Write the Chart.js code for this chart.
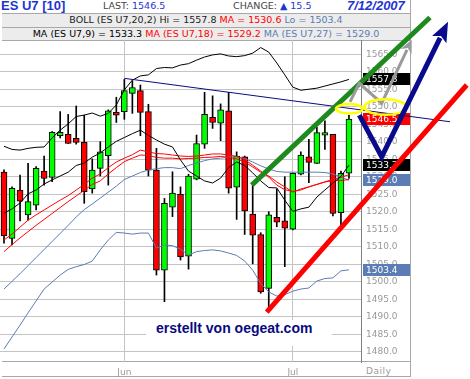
<!DOCTYPE html>
<html>
<head>
<meta charset="utf-8">
<script src="https://cdn.jsdelivr.net/npm/chart.js@4.4.1/dist/chart.umd.min.js"></script>
<style>
  html, body { margin: 0; padding: 0; background: #fff; }
  #wrap { position: relative; width: 470px; height: 379px; overflow: hidden; font-family: "DejaVu Sans", sans-serif; }
  .row { position: absolute; left: 2px; width: 408px; box-sizing: border-box; }
  #row1 { top: 0; height: 14px; background: #fff; border-bottom: 1px solid #a8a8a8; }
  #row2 { top: 14px; height: 14px; background: #ececec; border-bottom: 1px solid #a8a8a8; }
  #row3 { top: 28px; height: 13px; background: #ececec; border-bottom: 1px solid #a8a8a8; }
  .t { position: absolute; white-space: nowrap; line-height: 12px; font-size: 9.5px; }
  .c { left: 0; width: 408px; text-align: center; }
  .blue { color: #1f34d4; }
  .red { color: #ff0000; }
  .steel { color: #5b7cb4; }
  .big { font-family: "Liberation Sans", Arial, sans-serif; font-weight: bold; font-size: 13px; line-height: 14px; }
  #frameR { position: absolute; left: 410px; top: 0; width: 1px; height: 377px; background: #a8a8a8; }
  #frameB { position: absolute; left: 2px; top: 376px; width: 409px; height: 1px; background: #a8a8a8; }
  #axisB { position: absolute; left: 2px; top: 361px; width: 409px; height: 1px; background: #a8a8a8; }
  #daily { position: absolute; left: 366px; top: 366px; font-size: 9px; line-height: 11px; color: #999; letter-spacing: 0.5px; }
  #chart { position: absolute; left: 0; top: 0; }
  #mark { position: absolute; left: 146px; top: 320px; width: 186px; height: 26px; background: #fff;
          font-family: "Liberation Sans", Arial, sans-serif; font-weight: bold; font-size: 14px; line-height: 16px;
          color: #0a0a80; padding-left: 10px; box-sizing: border-box; padding-top: 0px; }
</style>
</head>
<body>
<div id="wrap">
  <div id="row1" class="row">
    <span class="t big blue" style="left:-1px;top:-1px;">ES U7 [10]</span>
    <span class="t" style="left:101px;top:0px;color:#444;">LAST: <span class="blue" id="vLast"></span></span>
    <span class="t" style="left:231px;top:0px;color:#444;">CHANGE: <span class="blue" id="vChg"></span></span>
    <span class="t big blue" style="left:345px;top:-1px;font-style:italic;">7/12/2007</span>
  </div>
  <div id="row2" class="row">
    <span class="t c" style="top:0px;color:#222;">BOLL (ES U7,20,2) Hi = <span id="vHi"></span> <span class="red">MA = <span id="vMid"></span></span> <span class="steel">Lo = <span id="vLo"></span></span></span>
  </div>
  <div id="row3" class="row">
    <span class="t c" style="top:0px;color:#000;">MA (ES U7,9) = <span id="vM9"></span> <span class="red">MA (ES U7,18) = <span id="vM18"></span></span> <span class="steel">MA (ES U7,27) = <span id="vM27"></span></span></span>
  </div>
  <div id="frameR"></div>
  <div id="frameB"></div>
  <div id="axisB"></div>
  <div id="daily">Daily</div>
  <canvas id="chart" width="470" height="379"></canvas>
  <div id="mark">erstellt von oegeat.com</div>
</div>
<script>
// Daily sessions, ES U7 (E-mini S&P 500, Sep 2007)
const dates = [
  '05/10','05/11','05/14','05/15','05/16','05/17','05/18','05/21','05/22','05/23','05/24','05/25','05/29','05/30','05/31',
  '06/01','06/04','06/05','06/06','06/07','06/08','06/11','06/12','06/13','06/14','06/15','06/18','06/19','06/20','06/21','06/22',
  '06/25','06/26','06/27','06/28','06/29',
  '07/02','07/03','07/05','07/06','07/09','07/10','07/11','07/12'
];
const monthLabels = ['Jun', 'Jul'];

const opens  = [1531.3,1512.4,1526.2,1519.1,1521.9,1531.6,1529.8,1541.7,1542.1,1541.0,1539.8,1526.5,1532.4,1536.0,1548.4,
                1548.6,1553.8,1554.6,1548.6,1531.9,1503.3,1521.3,1525.0,1507.3,1529.3,1539.3,1547.0,1545.3,1548.8,1527.0,1535.7,
                1519.3,1513.5,1498.1,1518.4,1517.4,
                1515.0,1530.7,1535.7,1533.8,1541.9,1542.1,1519.7,1531.0];
const highs  = [1532.0,1527.1,1530.5,1533.8,1532.9,1535.9,1542.9,1548.6,1547.8,1550.2,1547.6,1535.1,1540.0,1549.1,1552.7,
                1557.8,1557.4,1556.2,1550.7,1538.1,1523.8,1531.4,1527.1,1530.7,1541.9,1554.1,1553.1,1550.8,1554.1,1537.1,1535.9,
                1528.0,1514.0,1520.0,1526.5,1530.0,
                1531.1,1537.1,1540.7,1544.1,1546.0,1542.1,1531.6,1547.6];
const lows   = [1511.0,1510.5,1517.4,1517.6,1520.5,1527.6,1528.6,1541.1,1539.5,1539.3,1522.4,1525.3,1530.2,1527.6,1545.5,
                1546.4,1548.1,1541.7,1530.2,1501.9,1494.3,1518.6,1506.2,1503.6,1529.1,1538.1,1543.8,1540.3,1525.3,1517.8,1513.5,
                1505.1,1496.7,1492.0,1515.7,1504.3,
                1514.8,1530.5,1528.3,1533.8,1537.8,1518.8,1515.7,1529.5];
const closes = [1513.1,1526.7,1523.0,1522.9,1532.4,1529.5,1542.7,1542.7,1539.5,1539.8,1525.7,1531.9,1537.1,1548.8,1547.6,
                1554.6,1555.5,1548.4,1531.9,1503.3,1522.4,1525.3,1507.1,1530.2,1539.5,1547.8,1545.5,1549.1,1526.7,1535.9,1520.2,
                1513.3,1497.1,1519.1,1517.0,1515.3,
                1531.0,1536.2,1534.1,1542.6,1542.6,1519.5,1531.0,1546.5];

// Bollinger (20,2)
const bbUpper = [1538.7,1537.8,1537.6,1538.1,1538.4,1538.5,1541.1,1543.3,1545.1,1547.2,1547.6,1548.2,1547.3,1548.1,1550.5,
                 1554.8,1557.6,1558.8,1559.1,1560.9,1561.2,1561.1,1561.9,1562.3,1563.3,1564.2,1564.8,1565.1,1564.5,1564.3,1564.6,
                 1565.3,1566.9,1565.6,1562.5,1559.1,
                 1555.6,1554.7,1555.0,1555.3,1555.9,1556.5,1557.1,1557.8];
const bbMid   = [1508.6,1510.6,1512.5,1514.3,1516.1,1517.8,1519.5,1521.2,1522.9,1524.5,1526.1,1527.8,1528.8,1530.8,1532.6,
                 1534.3,1535.3,1536.2,1536.1,1535.5,1535.3,1535.3,1535.1,1535.2,1535.3,1535.5,1535.6,1535.8,1535.5,1535.1,1534.2,
                 1532.8,1531.3,1530.2,1528.5,1527.1,
                 1525.6,1526.5,1527.1,1527.8,1528.5,1529.3,1529.8,1530.6];
const bbLower = [1480.8,1484.2,1487.6,1491.1,1494.5,1497.9,1499.9,1501.9,1503.5,1504.3,1504.9,1505.9,1509.1,1511.9,1514.1,
                 1513.9,1513.6,1513.9,1513.9,1509.6,1510.5,1510.3,1509.3,1507.6,1508.6,1508.9,1509.1,1508.8,1508.2,1507.5,1505.9,
                 1503.3,1499.5,1497.1,1495.9,1496.3,
                 1497.3,1497.9,1498.2,1500.2,1500.9,1501.1,1503.1,1503.4];
// Moving averages 9 / 18 / 27
const ma9  = [1519.6,1520.8,1522.5,1525.1,1526.2,1527.9,1529.1,1530.2,1531.3,1533.2,1533.9,1535.6,1536.8,1538.5,1540.1,
              1541.2,1542.3,1543.3,1541.8,1540.5,1539.3,1538.5,1534.8,1531.6,1530.2,1528.8,1528.2,1529.6,1532.6,1534.2,1533.2,
              1531.1,1528.8,1526.9,1526.8,1523.3,
              1520.1,1520.8,1521.3,1524.2,1526.2,1528.2,1530.1,1533.3];
const ma18 = [1511.9,1513.6,1515.6,1517.6,1519.1,1520.5,1521.9,1523.3,1524.6,1526.2,1527.8,1529.6,1530.8,1532.6,1534.2,
              1535.3,1536.3,1537.6,1537.1,1536.6,1536.5,1536.2,1535.9,1535.8,1535.9,1536.2,1536.5,1536.5,1536.2,1535.8,1534.9,
              1533.3,1531.6,1529.9,1527.6,1526.3,
              1525.8,1526.2,1527.1,1527.8,1528.5,1528.9,1528.9,1529.2];
const ma27 = [1497.9,1500.1,1502.3,1504.6,1506.9,1509.2,1511.5,1513.8,1516.1,1518.5,1520.6,1522.2,1523.9,1525.6,1527.3,
              1529.2,1530.2,1531.2,1531.9,1532.3,1532.6,1532.6,1532.3,1533.2,1533.9,1534.6,1535.1,1535.3,1535.6,1535.7,1535.2,
              1534.2,1533.1,1532.2,1531.5,1531.3,
              1531.3,1531.3,1531.3,1531.3,1531.2,1530.8,1529.9,1529.0];

const yTickValues = [1480,1485,1490,1495,1500,1505,1510,1515,1520,1525,1530,1535,1540,1545,1550,1555,1560,1565];

// Hand-drawn studies, as [session index, price]
const trendLine    = [[15.0, 1558.1], [55.6, 1545.7]];
const greenChannel = [[30.88, 1527.6], [53.1, 1575.5]];
const redChannel   = [[32.75, 1491.3], [57.68, 1556.2]];
const blueArrow    = [[44.29, 1547.6], [47.08, 1535.7], [55.35, 1574.3]];
const grayArrow    = [[43.13, 1551.4], [44.29, 1556.7], [47.08, 1551.0], [50.82, 1569.1]];
// [centre index, centre price, half width in sessions, half height in points]
const yellowRings  = [[43.04, 1549.4, 1.66, 1.34], [47.52, 1549.9, 2.59, 2.23]];

const last = a => a[a.length - 1];
const fmt = v => v.toFixed(1);
document.getElementById('vLast').textContent = fmt(last(closes));
document.getElementById('vChg').textContent = '\u25B2 ' + fmt(last(closes) - closes[closes.length - 2]);
document.getElementById('vHi').textContent = fmt(last(bbUpper));
document.getElementById('vMid').textContent = fmt(last(bbMid));
document.getElementById('vLo').textContent = fmt(last(bbLower));
document.getElementById('vM9').textContent = fmt(last(ma9));
document.getElementById('vM18').textContent = fmt(last(ma18));
document.getElementById('vM27').textContent = fmt(last(ma27));

const labels = dates.concat(['']);
const monthStarts = [];
for (let i = 1; i < dates.length; i++) {
  if (dates[i].slice(0, 2) !== dates[i - 1].slice(0, 2)) monthStarts.push(i);
}

const STEEL = '#5b7cb4';
const lineSet = (data, color) => ({
  type: 'line', data, borderColor: color, borderWidth: 1, pointRadius: 0,
  fill: false, tension: 0, order: 0
});

const valueBoxes = [
  [last(bbUpper), '#000000'],
  [last(closes), '#ff0000'],
  [last(ma9), '#000000'],
  [last(ma27), STEEL],
  [last(bbLower), STEEL]
];

const studies = {
  id: 'studies',
  afterDraw(chart) {
    const { ctx, scales: { x, y } } = chart;
    const P = p => [x.getPixelForValue(p[0]), y.getPixelForValue(p[1])];

    // last-value tags on the price axis
    ctx.save();
    ctx.font = '9px "DejaVu Sans"';
    ctx.textBaseline = 'middle';
    ctx.textAlign = 'left';
    valueBoxes.forEach(([v, col]) => {
      const yy = Math.round(y.getPixelForValue(v));
      ctx.fillStyle = col;
      ctx.fillRect(y.left + 2, yy - 6, 47, 12);
      ctx.fillStyle = '#fff';
      ctx.fillText(fmt(v), y.left + 5, yy + 0.5);
    });
    ctx.restore();

    const poly = (pts, color, width) => {
      ctx.save();
      ctx.strokeStyle = color;
      ctx.lineWidth = width;
      ctx.lineJoin = 'miter';
      ctx.lineCap = 'butt';
      ctx.beginPath();
      pts.forEach((p, i) => { const [px, py] = P(p); i ? ctx.lineTo(px, py) : ctx.moveTo(px, py); });
      ctx.stroke();
      ctx.restore();
    };
    const arrow = (pts, color, width, len, half) => {
      const px = pts.map(P);
      const tip = px[px.length - 1], prev = px[px.length - 2];
      const dx = tip[0] - prev[0], dy = tip[1] - prev[1];
      const d = Math.hypot(dx, dy), ux = dx / d, uy = dy / d;
      const bx = tip[0] - ux * len, by = tip[1] - uy * len;
      ctx.save();
      ctx.strokeStyle = color;
      ctx.lineWidth = width;
      ctx.lineJoin = 'miter';
      ctx.beginPath();
      px.forEach((p, i) => {
        const q = i === px.length - 1 ? [bx + ux * 2, by + uy * 2] : p;
        i ? ctx.lineTo(q[0], q[1]) : ctx.moveTo(q[0], q[1]);
      });
      ctx.stroke();
      ctx.fillStyle = color;
      ctx.beginPath();
      ctx.moveTo(tip[0], tip[1]);
      ctx.lineTo(bx - uy * half, by + ux * half);
      ctx.lineTo(bx + ux * 4, by + uy * 4);
      ctx.lineTo(bx + uy * half, by - ux * half);
      ctx.closePath();
      ctx.fill();
      ctx.restore();
    };

    poly(trendLine, '#0a0a80', 1);
    poly(greenChannel, '#1e8a1e', 5);
    poly(redChannel, '#ff0000', 5);
    arrow(grayArrow, '#9a9a9a', 3, 13, 6);
    ctx.save();
    ctx.strokeStyle = '#ffff00';
    ctx.lineWidth = 2.5;
    yellowRings.forEach(([ci, cv, hw, hh]) => {
      const [cx, cy] = P([ci, cv]);
      const rx = Math.abs(x.getPixelForValue(ci + hw) - cx);
      const ry = Math.abs(y.getPixelForValue(cv + hh) - cy);
      ctx.beginPath();
      ctx.ellipse(cx, cy, rx, ry, 0, 0, Math.PI * 2);
      ctx.stroke();
    });
    ctx.restore();
    arrow(blueArrow, '#0a0a8c', 5, 20, 8);
  }
};

new Chart(document.getElementById('chart'), {
  type: 'bar',
  data: {
    labels,
    datasets: [
      lineSet(bbUpper, '#000000'),
      lineSet(ma9, '#000000'),
      lineSet(bbMid, '#ff0000'),
      lineSet(ma18, '#ff0000'),
      lineSet(ma27, STEEL),
      lineSet(bbLower, STEEL),
      {
        type: 'bar',
        data: opens.map((o, i) => [o, closes[i]]),
        backgroundColor: closes.map((c, i) => c >= opens[i] ? '#00ff00' : '#ff0000'),
        borderColor: '#000', borderWidth: 1, borderSkipped: false,
        barThickness: 6, grouped: false, order: 1
      },
      {
        type: 'bar',
        data: lows.map((l, i) => [l, highs[i]]),
        backgroundColor: '#000', borderWidth: 0,
        barThickness: 1, grouped: false, order: 2
      }
    ]
  },
  options: {
    responsive: false,
    animation: false,
    devicePixelRatio: 1,
    layout: { padding: { top: 40, left: 0, right: 59, bottom: 0 } },
    plugins: { legend: { display: false }, tooltip: { enabled: false } },
    scales: {
      x: {
        offset: true,
        grid: { offset: false, color: '#c4c4c4', drawTicks: false },
        border: { display: false },
        ticks: {
          autoSkip: false, maxRotation: 0, padding: 5, color: '#999',
          font: { family: 'DejaVu Sans', size: 9 },
          callback: (v, i) => monthLabels[i]
        },
        afterBuildTicks: s => { s.ticks = monthStarts.map(i => ({ value: i })); },
        afterFit: s => { s.height = 17; }
      },
      y: {
        position: 'right',
        min: 1477.06,
        max: 1569.06,
        grid: { color: '#c4c4c4', drawTicks: false },
        border: { display: true, color: '#808080' },
        ticks: {
          padding: 5, color: '#999',
          font: { family: 'DejaVu Sans', size: 9 },
          callback: v => fmt(v)
        },
        afterBuildTicks: s => { s.ticks = yTickValues.map(v => ({ value: v })); },
        afterFit: s => { s.width = 50; }
      }
    }
  },
  plugins: [studies]
});
</script>
</body>
</html>
